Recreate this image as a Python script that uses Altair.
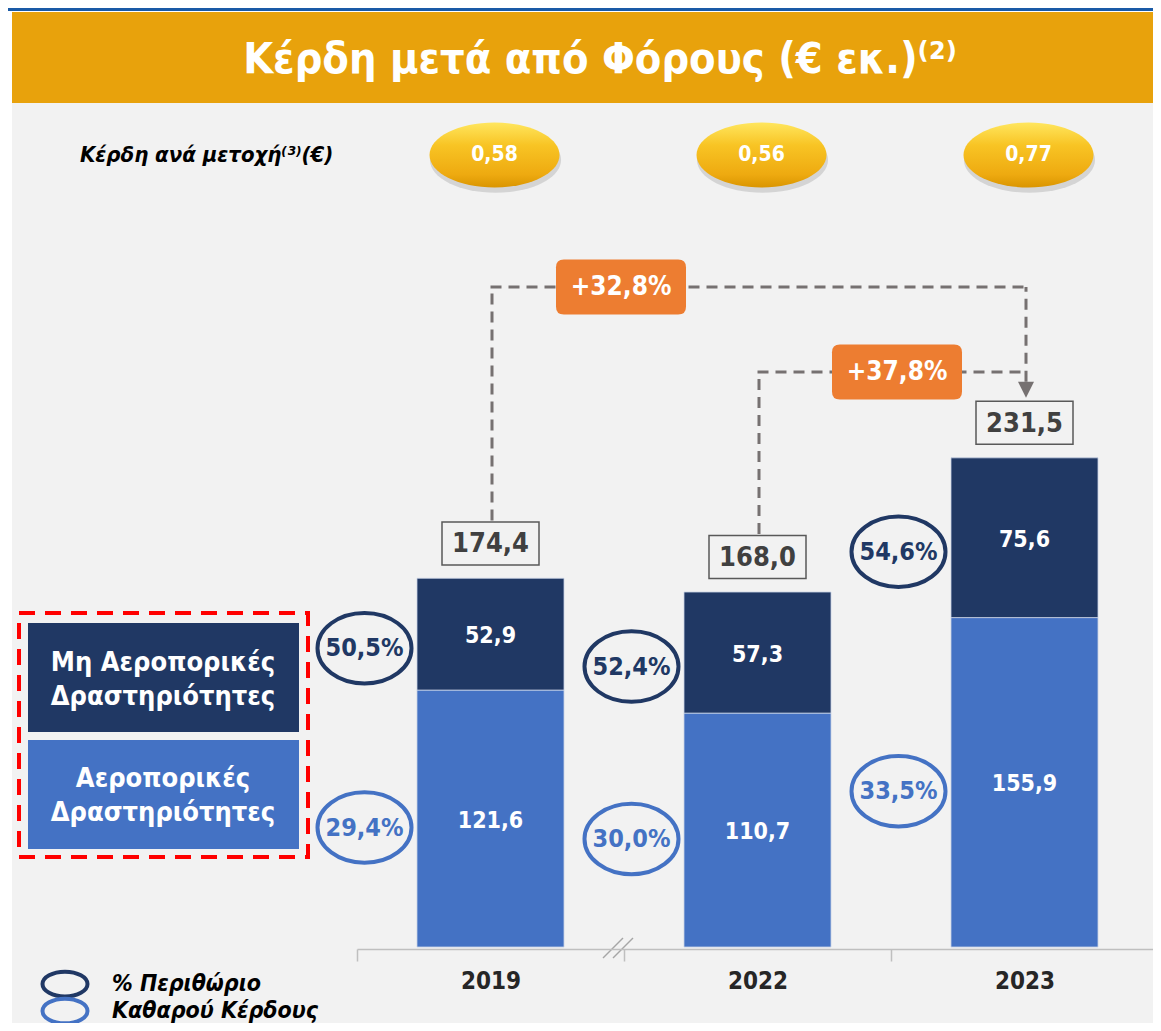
import altair as alt
import pandas as pd

# ---------------- data ----------------
years = ["2019", "2022", "2023"]
aero = [121.6, 110.7, 155.9]
non_aero = [52.9, 57.3, 75.6]
totals = [174.4, 168.0, 231.5]
aero_margin = ["29,4%", "30,0%", "33,5%"]
non_aero_margin = ["50,5%", "52,4%", "54,6%"]
eps = ["0,58", "0,56", "0,77"]
growth_from = ["2019", "2022"]
growth_to = ["2023", "2023"]
growth_labels = ["+32,8%", "+37,8%"]
series = ["Αεροπορικές Δραστηριότητες", "Μη Αεροπορικές Δραστηριότητες"]
title_text = "Κέρδη μετά από Φόρους (€ εκ.)⁽²⁾"
eps_title = "Κέρδη ανά μετοχή⁽³⁾(€)"
legend_lines = ["% Περιθώριο", "Καθαρού Κέρδους"]


def fmt(v):
    return f"{v:.1f}".replace(".", ",")


rows = []
for i, y in enumerate(years):
    rows.append(dict(year=y, series=series[0], lo=0.0, hi=aero[i],
                     label=fmt(aero[i]), margin=aero_margin[i]))
    rows.append(dict(year=y, series=series[1], lo=aero[i], hi=aero[i] + non_aero[i],
                     label=fmt(non_aero[i]), margin=non_aero_margin[i]))
bars = pd.DataFrame(rows)
bars["mid"] = (bars["lo"] + bars["hi"]) / 2
tot = pd.DataFrame(dict(year=years, total=totals,
                        label=[fmt(t) for t in totals], eps=eps))
growth = pd.DataFrame(dict(frm=growth_from, to=growth_to, label=growth_labels))

# ---------------- styles ----------------
F = "DejaVu Sans Condensed, DejaVu Sans"
C_AERO = "#4472C4"
C_NON = "#203864"
C_DASH = "#767171"
C_ORANGE = "#ED7D31"
C_BANNER = "#E8A20C"
W = 1145

one = alt.Data(values=[{"a": 1}])


def ellipse_path(b):
    k = 0.5523
    return (f"M-1,0 C-1,{-k*b:.4f} {-k:.4f},{-b:.4f} 0,{-b:.4f} "
            f"C{k:.4f},{-b:.4f} 1,{-k*b:.4f} 1,0 "
            f"C1,{k*b:.4f} {k:.4f},{b:.4f} 0,{b:.4f} "
            f"C{-k:.4f},{b:.4f} -1,{k*b:.4f} -1,0 Z")


def rect_path(b):
    return f"M-1,{-b} L1,{-b} L1,{b} L-1,{b} Z"


def rrect_path(b, r):
    return (f"M{-1+r},{-b} L{1-r},{-b} Q1,{-b} 1,{-b+r} L1,{b-r} Q1,{b} {1-r},{b} "
            f"L{-1+r},{b} Q-1,{b} -1,{b-r} L-1,{-b+r} Q-1,{-b} {-1+r},{-b} Z")


def deco_rect(x, x2, y, y2, **kw):
    return alt.Chart(one).mark_rect(**kw).encode(
        x=alt.value(x), x2=alt.value(x2), y=alt.value(y), y2=alt.value(y2))


def deco_text(txt, x, y, **kw):
    return alt.Chart(one).mark_text(**kw).encode(
        x=alt.value(x), y=alt.value(y), text=alt.value(txt))


xscale = alt.Scale(domain=years, range=[349, 1150], paddingInner=0, paddingOuter=0)
xaxis = alt.Axis(title=None, labelFont=F, labelFontWeight="bold", labelFontSize=24,
                 labelColor="#262626", labelAngle=0, labelPadding=8,
                 domainColor="#BFBFBF", domainWidth=1.5, tickColor="#BFBFBF",
                 tickWidth=1.5, tickSize=12, tickBand="extent", grid=False, zindex=1)
yscale = alt.Scale(domain=[0, 444.4], range=[939, 0], nice=False, zero=False)


def X(field="year"):
    return alt.X(f"{field}:N", scale=xscale, axis=xaxis, sort=years)


def Y(field):
    return alt.Y(f"{field}:Q", scale=yscale, axis=None)


layers = []

# background strips, banner, title
layers.append(deco_rect(0, 4, 0, 1015, color="white"))
layers.append(deco_rect(0, W, 0, 4, color="white"))
layers.append(deco_rect(0, W, 0, 3, color="#1A5AA6"))
layers.append(deco_rect(4, W, 4, 95, color=C_BANNER))
layers.append(deco_text(title_text, 592, 52, font=F, fontSize=43, fontWeight="bold",
                        color="white", align="center", baseline="middle"))
layers.append(deco_text(eps_title, 72, 147, font=F, fontSize=22, fontWeight="bold",
                        fontStyle="italic", color="black", align="left", baseline="middle"))

# EPS ellipses
gold = alt.LinearGradient(gradient="linear", x1=0, y1=0, x2=0, y2=1, stops=[
    alt.GradientStop(color="#FFE65E", offset=0),
    alt.GradientStop(color="#F8C424", offset=0.35),
    alt.GradientStop(color="#EEAA10", offset=0.8),
    alt.GradientStop(color="#DA9500", offset=1)])
layers.append(alt.Chart(tot).mark_point(shape=ellipse_path(0.5), size=17200, filled=True,
                                        fill="#000000", opacity=0.12, strokeWidth=0,
                                        xOffset=5, yOffset=5).encode(x=X(), y=alt.value(147)))
layers.append(alt.Chart(tot).mark_point(shape=ellipse_path(0.5), size=16900, filled=True,
                                        fill=gold, opacity=1, strokeWidth=0,
                                        xOffset=4).encode(x=X(), y=alt.value(147)))
layers.append(alt.Chart(tot).mark_text(font=F, fontSize=21, fontWeight="bold", color="white",
                                       dx=4, baseline="middle").encode(
    x=X(), y=alt.value(147), text="eps:N"))

# growth brackets
LEVELS = [279, 364]
LABEL_X = [613, 889]
dash = dict(color=C_DASH, strokeWidth=3, strokeDash=[11, 7])
for i in range(len(growth)):
    g = growth.iloc[[i]]
    src = tot[tot["year"] == growth_from[i]]
    layers.append(alt.Chart(src).mark_rule(yOffset=-58, xOffset=1.5, **dash).encode(
        x=X(), y=Y("total"), y2=alt.value(LEVELS[i])))
    layers.append(alt.Chart(g).mark_rule(**dash).encode(
        x=alt.X("frm:N", scale=xscale, axis=xaxis, sort=years, bandPosition=0.5),
        x2=alt.X2("to", bandPosition=0.5), y=alt.value(LEVELS[i])))
    if i == 0:
        dst = tot[tot["year"] == growth_to[i]]
        layers.append(alt.Chart(dst).mark_rule(yOffset=-76, xOffset=1.5, **dash).encode(
            x=X(), y=Y("total"), y2=alt.value(LEVELS[i])))
        layers.append(alt.Chart(dst).mark_point(shape="M-1,-1 L1,-1 L0,1 Z", size=256,
                                                filled=True, fill=C_DASH, opacity=1,
                                                strokeWidth=0, yOffset=-68, xOffset=1.5).encode(
            x=X(), y=Y("total")))
for i in range(len(growth)):
    g = growth.iloc[[i]]
    layers.append(alt.Chart(g).mark_point(shape=rrect_path(0.423, 0.12), size=16900, filled=True,
                                          fill=C_ORANGE, opacity=1, strokeWidth=0).encode(
        x=alt.value(LABEL_X[i]), y=alt.value(LEVELS[i])))
    layers.append(alt.Chart(g).mark_text(font=F, fontSize=26, fontWeight="bold", color="white",
                                         baseline="middle").encode(
        x=alt.value(LABEL_X[i]), y=alt.value(LEVELS[i]), text="label:N"))

# bars
layers.append(alt.Chart(bars).mark_bar(width=147, stroke="#C9D3E6", strokeWidth=0.8).encode(
    x=X(), y=Y("lo"), y2="hi:Q",
    color=alt.Color("series:N", scale=alt.Scale(domain=series, range=[C_AERO, C_NON]),
                    legend=None)))
layers.append(alt.Chart(bars).mark_text(font=F, fontSize=23, fontWeight="bold", color="white",
                                        baseline="middle", dy=2).encode(
    x=X(), y=Y("mid"), text="label:N"))

# total boxes
layers.append(alt.Chart(tot).mark_point(shape=rect_path(0.443), size=9409, filled=True,
                                        fill="#F2F2F2", stroke="#595959", strokeWidth=1.5,
                                        opacity=1, yOffset=-35).encode(x=X(), y=Y("total")))
layers.append(alt.Chart(tot).mark_text(font=F, fontSize=27, fontWeight="bold", color="#404040",
                                       baseline="middle", dy=-34).encode(
    x=X(), y=Y("total"), text="label:N"))

# margin ellipses
for s, col, off in [(series[1], C_NON, 14), (series[0], C_AERO, 9)]:
    sub = bars[bars["series"] == s]
    layers.append(alt.Chart(sub).mark_point(shape=ellipse_path(0.75), size=8836, filled=False,
                                            stroke=col, strokeWidth=4, opacity=1,
                                            xOffset=-126, yOffset=off).encode(x=X(), y=Y("mid")))
    layers.append(alt.Chart(sub).mark_text(font=F, fontSize=25, fontWeight="bold", color=col,
                                           baseline="middle", dx=-126, dy=off).encode(
        x=X(), y=Y("mid"), text="margin:N"))

# left legend (series boxes)
layers.append(deco_rect(20, 291, 615, 724, color=C_NON))
layers.append(deco_rect(20, 291, 732, 841, color=C_AERO))
for s, cy in [(series[1], 672), (series[0], 788)]:
    first, second = s.rsplit(" ", 1)
    for txt, yy in [(first, cy - 17), (second, cy + 17)]:
        layers.append(deco_text(txt, 155, yy, font=F, fontSize=27, fontWeight="bold",
                                color="white", align="center", baseline="middle"))
layers.append(deco_rect(11, 300, 605, 849, filled=False, stroke="#FF0000", strokeWidth=4,
                        strokeDash=[16, 10]))

# bottom legend (margin ellipses)
for col, yy, txt in [(C_NON, 976, legend_lines[0]), (C_AERO, 1003, legend_lines[1])]:
    layers.append(alt.Chart(one).mark_point(shape=ellipse_path(0.55), size=2025, filled=False,
                                            stroke=col, strokeWidth=4, opacity=1).encode(
        x=alt.value(57), y=alt.value(yy)))
    layers.append(deco_text(txt, 104, yy, font=F, fontSize=23, fontWeight="bold",
                            fontStyle="italic", color="black", align="left", baseline="middle"))

# axis break marks
for x0 in [595, 605]:
    layers.append(alt.Chart(one).mark_rule(color="#A6A6A6", strokeWidth=1.5).encode(
        x=alt.value(x0), x2=alt.value(x0 + 20), y=alt.value(950), y2=alt.value(930)))

chart = alt.layer(*layers).properties(
    width=W, height=941,
    padding={"left": 0, "top": 0, "right": 0, "bottom": 74},
    autosize=alt.AutoSizeParams(type="none"),
    background="#F2F2F2",
).configure_view(stroke=None)

chart.save("out.html", embed_options={"renderer": "svg", "actions": False})
